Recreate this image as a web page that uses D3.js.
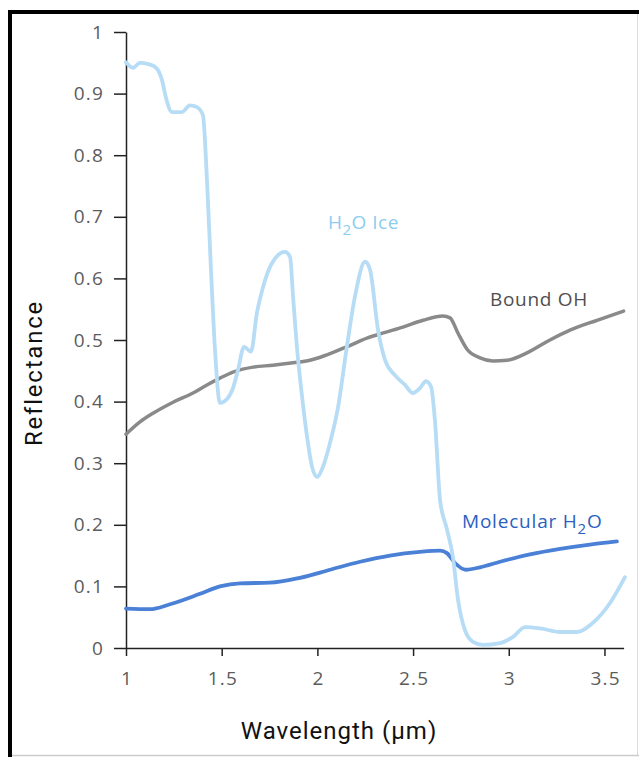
<html>
<head>
<script src="https://d3js.org/d3.v7.min.js"></script>
<style>
  body { margin: 0; background: white; }
  svg { display: block; }
</style>
</head>
<body>
<svg width="639" height="757"></svg>
<script>
// wavelength (um) / reflectance pairs
var iceX = [1.0, 1.037, 1.073, 1.115, 1.157, 1.188, 1.209, 1.24, 1.293, 1.334, 1.371, 1.402, 1.423, 1.444, 1.465, 1.491,
  1.53, 1.559, 1.585, 1.617, 1.653, 1.684, 1.716, 1.763, 1.831, 1.857, 1.873, 1.893, 1.92, 1.946, 1.972, 1.998,
  2.029, 2.066, 2.108, 2.154, 2.196, 2.249, 2.275, 2.317, 2.353, 2.405, 2.458, 2.499, 2.536, 2.567, 2.594, 2.614,
  2.641, 2.675, 2.708, 2.735, 2.771, 2.813, 2.865, 2.954, 3.022, 3.085, 3.163, 3.268, 3.356, 3.44, 3.529, 3.607];
var iceY = [0.951, 0.942, 0.95, 0.948, 0.942, 0.922, 0.893, 0.87, 0.87, 0.881, 0.878, 0.865, 0.76, 0.614, 0.484, 0.398,
  0.405, 0.422, 0.451, 0.489, 0.481, 0.544, 0.586, 0.625, 0.643, 0.635, 0.57, 0.489, 0.408, 0.343, 0.294, 0.278,
  0.294, 0.333, 0.391, 0.489, 0.57, 0.627, 0.614, 0.516, 0.468, 0.443, 0.427, 0.414, 0.422, 0.433, 0.424, 0.37,
  0.24, 0.195, 0.148, 0.078, 0.029, 0.01, 0.005, 0.008, 0.018, 0.034, 0.032, 0.026, 0.026, 0.041, 0.073, 0.115];

var ohX = [1.0, 1.073, 1.141, 1.246, 1.35, 1.423, 1.491, 1.559, 1.664, 1.768, 1.873, 1.961, 2.05, 2.154, 2.259, 2.35,
  2.447, 2.552, 2.656, 2.693, 2.735, 2.782, 2.85, 2.917, 2.991, 3.095, 3.215, 3.32, 3.461, 3.6];
var ohY = [0.347, 0.367, 0.381, 0.399, 0.414, 0.427, 0.438, 0.448, 0.456, 0.459, 0.463, 0.467, 0.476, 0.489, 0.503, 0.512,
  0.521, 0.532, 0.539, 0.536, 0.511, 0.485, 0.471, 0.466, 0.467, 0.479, 0.5, 0.516, 0.532, 0.547];

var molX = [1.0, 1.125, 1.23, 1.387, 1.491, 1.596, 1.752, 1.909, 2.066, 2.223, 2.379, 2.536, 2.641, 2.677, 2.719, 2.775,
  2.85, 2.954, 3.111, 3.268, 3.424, 3.565];
var molY = [0.064, 0.063, 0.071, 0.088, 0.1, 0.105, 0.106, 0.114, 0.127, 0.14, 0.15, 0.156, 0.158, 0.154, 0.138, 0.127,
  0.131, 0.14, 0.152, 0.161, 0.168, 0.173];

var xTicks = [1, 1.5, 2, 2.5, 3, 3.5];
var yTicks = [0, 0.1, 0.2, 0.3, 0.4, 0.5, 0.6, 0.7, 0.8, 0.9, 1];

var font = "Roboto, sans-serif";
var wideFont = "'Open Sans', sans-serif";
var svg = d3.select("svg");

// frame
svg.append("line").attr("x1", 8).attr("x2", 639).attr("y1", 12).attr("y2", 12)
  .attr("stroke", "black").attr("stroke-width", 4);
svg.append("line").attr("x1", 10).attr("x2", 10).attr("y1", 10).attr("y2", 757)
  .attr("stroke", "black").attr("stroke-width", 4);
svg.append("line").attr("x1", 637.5).attr("x2", 637.5).attr("y1", 14).attr("y2", 755)
  .attr("stroke", "#ddd").attr("stroke-width", 1);
svg.append("line").attr("x1", 12).attr("x2", 639).attr("y1", 755.5).attr("y2", 755.5)
  .attr("stroke", "#ccc").attr("stroke-width", 1.5);

var x = d3.scaleLinear().domain([1, 3.6]).range([126, 623.6]);
var y = d3.scaleLinear().domain([0, 1]).range([648, 32]);

var xAxis = svg.append("g").attr("transform", "translate(0,648)")
  .call(d3.axisBottom(x).tickValues(xTicks).tickSize(8).tickSizeOuter(0).tickPadding(16).tickFormat(d3.format("")));
var yAxis = svg.append("g").attr("transform", "translate(126,0)")
  .call(d3.axisLeft(y).tickValues(yTicks).tickSize(12).tickSizeOuter(0).tickPadding(10).tickFormat(d3.format("")));
svg.selectAll(".domain").attr("stroke", "#222").attr("stroke-width", 1.5);
svg.selectAll(".tick line").attr("stroke", "#222").attr("stroke-width", 1.5);
svg.selectAll(".tick text").attr("font-family", wideFont).attr("font-size", "19px")
  .attr("letter-spacing", "1.2px").attr("fill", "#5c5c5c");
xAxis.selectAll(".tick text").attr("dx", 0.6);

svg.append("text").attr("transform", "translate(42,373) rotate(-90)")
  .attr("text-anchor", "middle").attr("font-family", font).attr("font-size", "24px")
  .attr("letter-spacing", "1.8px").attr("fill", "#111").text("Reflectance");
svg.append("text").attr("x", 339).attr("y", 739)
  .attr("text-anchor", "middle").attr("font-family", font).attr("font-size", "24px")
  .attr("letter-spacing", "1px").attr("fill", "#111").text("Wavelength (\u00b5m)");

var line = d3.line().x(function(d) { return x(d[0]); }).y(function(d) { return y(d[1]); })
  .curve(d3.curveMonotoneX);

function drawSeries(xs, ys, color, w) {
  var pts = xs.map(function(v, i) { return [v, ys[i]]; });
  svg.append("path").datum(pts).attr("d", line)
    .attr("fill", "none").attr("stroke", color).attr("stroke-width", w)
    .attr("stroke-linejoin", "round").attr("stroke-linecap", "round");
}

drawSeries(ohX, ohY, "#8a8a8a", 3.5);
drawSeries(molX, molY, "#4a80d6", 3.8);
drawSeries(iceX, iceY, "#b6dcf6", 3.8);

// labels
function label(tx, ty, color, spacing, parts) {
  var t = svg.append("text").attr("x", tx).attr("y", ty)
    .attr("font-family", wideFont).attr("font-size", "19px").attr("letter-spacing", spacing).attr("fill", color);
  parts.forEach(function(p) {
    var s = t.append("tspan").text(p[0]);
    if (p[1] == "sub") s.attr("dy", 6).attr("font-size", "15px");
    if (p[1] == "up") s.attr("dy", -6);
  });
}
label(328, 229, "#8ccdee", "0.5px", [["H"], ["2", "sub"], ["O Ice", "up"]]);
label(490, 306, "#4f4f4f", "0.7px", [["Bound OH"]]);
label(462, 528, "#2b5fbf", "0.8px", [["Molecular H"], ["2", "sub"], ["O", "up"]]);
</script>
</body>
</html>
